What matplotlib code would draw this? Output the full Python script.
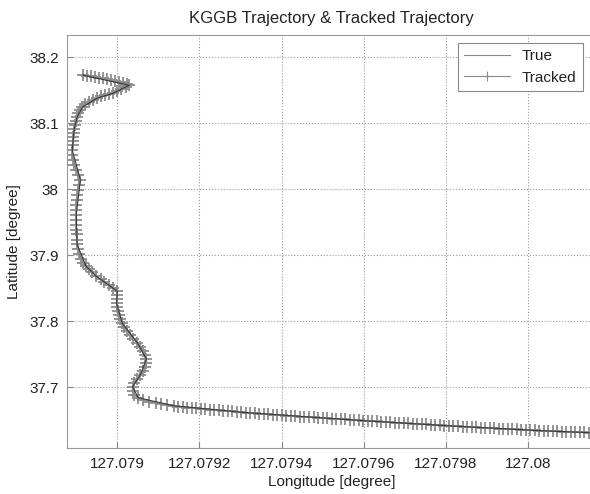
import numpy as np
import matplotlib
matplotlib.use("Agg")
import matplotlib.pyplot as plt

plt.rcParams["font.family"] = ["Liberation Sans", "DejaVu Sans"]

# tracked positions (lon, lat), in time order
trk_lon = [
    127.078917, 127.078927, 127.078937, 127.078946, 127.078956, 127.078966, 127.078976,
    127.078985, 127.078995, 127.079005, 127.079015, 127.079024, 127.079029,
    127.079020, 127.079010, 127.079000, 127.078990, 127.078980, 127.078971, 127.078961,
    127.078951, 127.078941, 127.078932, 127.078922, 127.078915, 127.078910, 127.078905,
    127.078902, 127.078900, 127.078898, 127.078895, 127.078895, 127.078893, 127.078893,
    127.078893, 127.078890, 127.078890, 127.078893, 127.078895, 127.078900, 127.078905,
    127.078910, 127.078907, 127.078905, 127.078902, 127.078902, 127.078900, 127.078900,
    127.078900, 127.078900, 127.078900, 127.078900, 127.078902, 127.078902, 127.078902,
    127.078905, 127.078907, 127.078912, 127.078917, 127.078924,
    127.078932, 127.078939, 127.078949, 127.078959, 127.078968, 127.078980, 127.078990,
    127.079000, 127.079000, 127.078998, 127.078998, 127.079000, 127.079002, 127.079005,
    127.079007, 127.079012, 127.079017, 127.079024, 127.079032, 127.079039, 127.079049,
    127.079056, 127.079063, 127.079068, 127.079071, 127.079071, 127.079068, 127.079063,
    127.079056, 127.079049, 127.079041, 127.079037, 127.079037, 127.079041, 127.079051,
    127.079063, 127.079078, 127.079093, 127.079107, 127.079122, 127.079137,
    127.079148, 127.079159, 127.079170, 127.079181, 127.079192, 127.079203, 127.079214,
    127.079225, 127.079236, 127.079247, 127.079258, 127.079269, 127.079280, 127.079291,
    127.079302, 127.079313, 127.079324, 127.079335, 127.079346, 127.079357, 127.079368,
    127.079379, 127.079390, 127.079401, 127.079412, 127.079423, 127.079434, 127.079445,
    127.079456, 127.079467, 127.079478, 127.079489, 127.079500, 127.079511, 127.079522,
    127.079533, 127.079544, 127.079555, 127.079566, 127.079577, 127.079588, 127.079599,
    127.079610, 127.079621, 127.079632, 127.079643, 127.079654, 127.079665, 127.079676,
    127.079687, 127.079698, 127.079709, 127.079720, 127.079731, 127.079742, 127.079753,
    127.079764, 127.079775, 127.079786, 127.079797, 127.079808, 127.079819, 127.079830,
    127.079841, 127.079852, 127.079863, 127.079874, 127.079885, 127.079896, 127.079907,
    127.079918, 127.079929, 127.079940, 127.079951, 127.079962, 127.079973, 127.079984,
    127.079995, 127.080006, 127.080017, 127.080028, 127.080039, 127.080050, 127.080061,
    127.080072, 127.080083, 127.080094, 127.080105, 127.080116, 127.080127, 127.080138,
    127.080149,
]
trk_lat = [
    38.1724, 38.1716, 38.1709, 38.1694, 38.1686, 38.1679, 38.1664,
    38.1649, 38.1633, 38.1618, 38.1603, 38.1588, 38.1573,
    38.1543, 38.1513, 38.1483, 38.1452, 38.1437, 38.1422, 38.1407,
    38.1377, 38.1347, 38.1317, 38.1287, 38.1241, 38.1196, 38.1151,
    38.1090, 38.1030, 38.0970, 38.0910, 38.0849, 38.0789, 38.0729,
    38.0668, 38.0593, 38.0517, 38.0442, 38.0367, 38.0291, 38.0216,
    38.0140, 38.0065, 37.9989, 37.9914, 37.9839, 37.9763, 37.9688,
    37.9612, 37.9537, 37.9462, 37.9386, 37.9311, 37.9235, 37.9160,
    37.9084, 37.9009, 37.8934, 37.8873, 37.8828,
    37.8783, 37.8738, 37.8677, 37.8632, 37.8587, 37.8541, 37.8496,
    37.8451, 37.8391, 37.8330, 37.8270, 37.8210, 37.8149, 37.8089,
    37.8029, 37.7968, 37.7908, 37.7848, 37.7787, 37.7727, 37.7667,
    37.7606, 37.7546, 37.7486, 37.7425, 37.7365, 37.7305, 37.7244,
    37.7184, 37.7124, 37.7063, 37.7003, 37.6943, 37.6882, 37.6837,
    37.6807, 37.6777, 37.6762, 37.6747, 37.6732, 37.6716,
    37.6702, 37.6696, 37.6689, 37.6683, 37.6676, 37.6669, 37.6664,
    37.6658, 37.6652, 37.6646, 37.6641, 37.6635, 37.6629, 37.6624,
    37.6618, 37.6612, 37.6607, 37.6601, 37.6596, 37.6591, 37.6585,
    37.6580, 37.6575, 37.6569, 37.6565, 37.6561, 37.6556, 37.6552,
    37.6547, 37.6543, 37.6539, 37.6534, 37.6530, 37.6525, 37.6521,
    37.6517, 37.6512, 37.6508, 37.6503, 37.6499, 37.6495, 37.6490,
    37.6486, 37.6482, 37.6478, 37.6474, 37.6470, 37.6466, 37.6461,
    37.6457, 37.6453, 37.6449, 37.6445, 37.6441, 37.6437, 37.6433,
    37.6429, 37.6424, 37.6420, 37.6416, 37.6412, 37.6409, 37.6405,
    37.6401, 37.6397, 37.6394, 37.6390, 37.6386, 37.6383, 37.6379,
    37.6375, 37.6371, 37.6368, 37.6364, 37.6360, 37.6357, 37.6353,
    37.6349, 37.6345, 37.6342, 37.6339, 37.6336, 37.6334, 37.6331,
    37.6328, 37.6325, 37.6322, 37.6320, 37.6317, 37.6314, 37.6311,
    37.6308,
]

# reference trajectory
true_lon = [127.078917, 127.079029, 127.078990, 127.078951, 127.078915, 127.078902,
            127.078895, 127.078890, 127.078910, 127.078900, 127.078902, 127.078924,
            127.078949, 127.078980, 127.079000, 127.078998, 127.079012, 127.079049,
            127.079071, 127.079056, 127.079037, 127.079051, 127.079137, 127.079313,
            127.079599, 127.079797, 127.080006, 127.080149]
true_lat = [38.1724, 38.1573, 38.1452, 38.1377, 38.1241, 38.1090,
            38.0910, 38.0593, 38.0140, 37.9612, 37.9160, 37.8828,
            37.8677, 37.8541, 37.8451, 37.8270, 37.7968, 37.7667,
            37.7425, 37.7184, 37.7003, 37.6837, 37.6716, 37.6612,
            37.6490, 37.6416, 37.6345, 37.6308]

xticks = [127.079, 127.0792, 127.0794, 127.0796, 127.0798, 127.08]
xtick_labels = ["127.079", "127.0792", "127.0794", "127.0796", "127.0798", "127.08"]
yticks = [37.7, 37.8, 37.9, 38.0, 38.1, 38.2]
ytick_labels = ["37.7", "37.8", "37.9", "38", "38.1", "38.2"]

fig = plt.figure(figsize=(5.9, 4.94), dpi=100)
ax = fig.add_axes([0.114, 0.0925, 0.896, 0.8365])

ax.plot(trk_lon, trk_lat, color="#6e6e6e", lw=0.9, marker="+", ms=8.5, mew=1.3,
        mec="#8c8c8c", label="Tracked", zorder=2)
# true path drawn over the markers
ax.plot(true_lon, true_lat, color="#3a3a3a", lw=0.8, label="True", zorder=3)

ax.set_xlim(127.078878, 127.080166)
ax.set_ylim(37.6071, 38.2333)
ax.set_xticks(xticks)
ax.set_xticklabels(xtick_labels)
ax.set_yticks(yticks)
ax.set_yticklabels(ytick_labels)

ax.grid(True, ls=":", color="#9a9a9a", lw=0.8)
ax.tick_params(direction="in", length=4, color="#888888", labelsize=11,
               labelcolor="#222222", pad=6)
for s in ax.spines.values():
    s.set_color("#9a9a9a")
ax.spines["right"].set_visible(False)

ax.set_title("KGGB Trajectory & Tracked Trajectory", fontsize=12, color="#222222", pad=9)
ax.set_xlabel("Longitude [degree]", fontsize=11, color="#222222", labelpad=3)
ax.set_ylabel("Latitude [degree]", fontsize=11, color="#222222", labelpad=6)

handles, labels = ax.get_legend_handles_labels()
leg = ax.legend(handles[::-1], labels[::-1], loc="upper right",
                bbox_to_anchor=(0.975, 0.981), borderaxespad=0,
                fontsize=11, fancybox=False, framealpha=1, edgecolor="#888888",
                handlelength=3.0, labelcolor="#222222")
leg.get_frame().set_linewidth(0.8)
for h in leg.legend_handles:
    h.set_color("#8a8a8a")
    h.set_linewidth(0.8)
    h.set_markersize(7)
    h.set_markeredgecolor("#8a8a8a")
    h.set_markeredgewidth(0.8)

fig.savefig("out.png", dpi=100)
